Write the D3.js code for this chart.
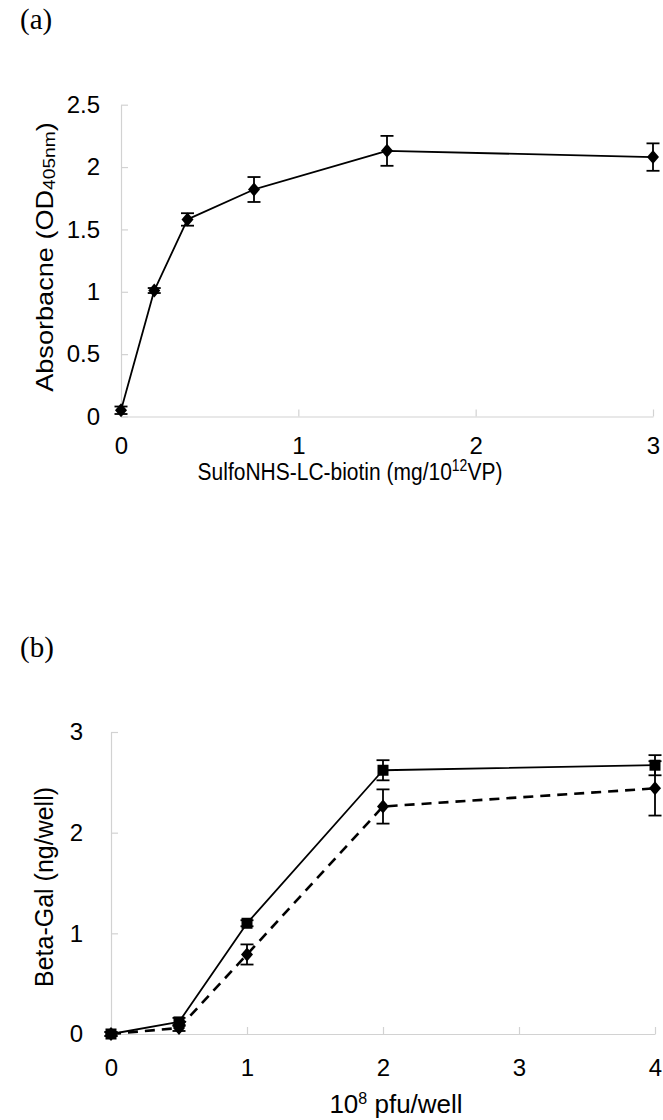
<!DOCTYPE html>
<html>
<head>
<meta charset="utf-8">
<script src="https://cdn.jsdelivr.net/npm/d3@7"></script>
<style>
  html, body { margin: 0; padding: 0; background: #fff; }
  svg { display: block; }
  text { font-family: "Liberation Sans", Arial, sans-serif; fill: #000; }
  text.panel { font-family: "Liberation Serif", "Times New Roman", serif; }
</style>
</head>
<body>
<svg id="chart" width="663" height="1120"></svg>
<script>
// ---------- data ----------
// Panel (a)
const aX = [0, 0.1875, 0.375, 0.75, 1.5, 3];
const aY = [0.05, 1.01, 1.58, 1.82, 2.13, 2.08];
const aErr = [0.03, 0.02, 0.05, 0.10, 0.12, 0.11];
const aXTicks = [0, 1, 2, 3];
const aXTickLabels = ["0", "1", "2", "3"];
const aYTicks = [0, 0.5, 1, 1.5, 2, 2.5];
const aYTickLabels = ["0", "0.5", "1", "1.5", "2", "2.5"];

// Panel (b)
const bX = [0, 0.5, 1, 2, 4];
const bSolid = [0, 0.12, 1.10, 2.62, 2.67];
const bSolidErr = [0.02, 0.04, 0.03, 0.10, 0.10];
const bDashed = [0, 0.06, 0.79, 2.26, 2.44];
const bDashedErr = [0.02, 0.03, 0.10, 0.17, 0.27];
const bXTicks = [0, 1, 2, 3, 4];
const bXTickLabels = ["0", "1", "2", "3", "4"];
const bYTicks = [0, 1, 2, 3];
const bYTickLabels = ["0", "1", "2", "3"];

// ---------- drawing ----------
const svg = d3.select("#chart");
const AXIS_COLOR = "#d2d2d2";
const TICK_FONT = 24;

function drawAxes(g, x, y, xTicks, xLabels, yTicks, yLabels, yLabelGap, xLabelDy) {
  const [xa] = x.range();
  const [ya] = y.range();
  const xAxis = g.append("g").attr("transform", `translate(0,${ya})`)
    .call(d3.axisBottom(x).tickValues(xTicks).tickSize(-7).tickFormat((d, i) => xLabels[i]).tickSizeOuter(0));
  xAxis.select(".domain").attr("stroke", AXIS_COLOR).attr("stroke-width", 1.2);
  xAxis.selectAll(".tick line").attr("stroke", AXIS_COLOR).attr("stroke-width", 1.2);
  xAxis.selectAll(".tick text").attr("font-size", TICK_FONT).attr("y", xLabelDy).attr("dy", 0)
    .attr("fill", "#000");
  const yAxis = g.append("g").attr("transform", `translate(${xa},0)`)
    .call(d3.axisLeft(y).tickValues(yTicks).tickSize(-7).tickFormat((d, i) => yLabels[i]).tickSizeOuter(0));
  yAxis.select(".domain").attr("stroke", AXIS_COLOR).attr("stroke-width", 1.2);
  yAxis.selectAll(".tick line").attr("stroke", AXIS_COLOR).attr("stroke-width", 1.2);
  yAxis.selectAll(".tick text").attr("font-size", TICK_FONT).attr("x", -yLabelGap)
    .attr("fill", "#000");
  g.selectAll(".tick text").style("font-family", "'Liberation Sans', Arial, sans-serif");
}

function drawErrors(g, x, y, xs, ys, es, cap) {
  const eg = g.append("g").attr("stroke", "#000").attr("stroke-width", 1.8).attr("fill", "none");
  xs.forEach((xv, i) => {
    const cx = x(xv), top = y(ys[i] + es[i]), bot = y(ys[i] - es[i]);
    eg.append("line").attr("x1", cx).attr("x2", cx).attr("y1", top).attr("y2", bot);
    eg.append("line").attr("x1", cx - cap).attr("x2", cx + cap).attr("y1", top).attr("y2", top);
    eg.append("line").attr("x1", cx - cap).attr("x2", cx + cap).attr("y1", bot).attr("y2", bot);
  });
}

function drawLine(g, x, y, xs, ys, dash, width) {
  const line = d3.line().x((d, i) => x(xs[i])).y(d => y(d));
  g.append("path").datum(ys).attr("d", line).attr("fill", "none")
    .attr("stroke", "#000").attr("stroke-width", width)
    .attr("stroke-dasharray", dash || null).attr("stroke-linejoin", "round");
}

function drawDiamonds(g, x, y, xs, ys, w, h) {
  g.append("g").selectAll("path").data(ys).join("path")
    .attr("d", (d, i) => {
      const cx = x(xs[i]), cy = y(d);
      return `M${cx},${cy - h / 2}L${cx + w / 2},${cy}L${cx},${cy + h / 2}L${cx - w / 2},${cy}Z`;
    }).attr("fill", "#000");
}

function drawSquares(g, x, y, xs, ys, s) {
  g.append("g").selectAll("rect").data(ys).join("rect")
    .attr("x", (d, i) => x(xs[i]) - s / 2).attr("y", d => y(d) - s / 2)
    .attr("width", s).attr("height", s).attr("fill", "#000");
}

// ----- Panel (a) -----
{
  const g = svg.append("g");
  const x = d3.scaleLinear().domain([0, 3]).range([121, 653]);
  const y = d3.scaleLinear().domain([0, 2.5]).range([416.5, 104.7]);
  drawAxes(g, x, y, aXTicks, aXTickLabels, aYTicks, aYTickLabels, 21, 37);
  drawLine(g, x, y, aX, aY, null, 1.8);
  drawErrors(g, x, y, aX, aY, aErr, 6.5);
  drawDiamonds(g, x, y, aX, aY, 12, 14);

  g.append("text").attr("class", "panel").attr("x", 20).attr("y", 29)
    .attr("font-size", 29).text("(a)");

  const xt = g.append("text").attr("transform", "translate(350,480) scale(1,1.15)")
    .attr("text-anchor", "middle").attr("font-size", 21);
  xt.append("tspan").text("SulfoNHS-LC-biotin (mg/10");
  xt.append("tspan").attr("font-size", 14).attr("dy", -8).text("12");
  xt.append("tspan").attr("dy", 8).text("VP)");

  const yt = g.append("text").attr("transform", "translate(53,257) scale(1,1.13) rotate(-90)")
    .attr("text-anchor", "middle").attr("font-size", 24);
  yt.append("tspan").text("Absorbacne (OD");
  yt.append("tspan").attr("font-size", 17).attr("dy", 2).text("405nm");
  yt.append("tspan").attr("dy", -2).text(")");
}

// ----- Panel (b) -----
{
  const g = svg.append("g");
  const x = d3.scaleLinear().domain([0, 4]).range([111, 655]);
  const y = d3.scaleLinear().domain([0, 3]).range([1034, 732]);
  drawAxes(g, x, y, bXTicks, bXTickLabels, bYTicks, bYTickLabels, 28, 42);
  drawLine(g, x, y, bX, bDashed, "10,7", 2.6);
  drawLine(g, x, y, bX, bSolid, null, 1.8);
  drawErrors(g, x, y, bX, bSolid, bSolidErr, 6.5);
  drawErrors(g, x, y, bX, bDashed, bDashedErr, 6.5);
  drawSquares(g, x, y, bX, bSolid, 11);
  drawDiamonds(g, x, y, bX, bDashed, 12, 14);

  g.append("text").attr("class", "panel").attr("x", 20).attr("y", 657)
    .attr("font-size", 29).text("(b)");

  const xt = g.append("text").attr("x", 396).attr("y", 1113).attr("text-anchor", "middle").attr("font-size", 26);
  xt.append("tspan").text("10");
  xt.append("tspan").attr("font-size", 16).attr("dy", -9).text("8");
  xt.append("tspan").attr("dy", 9).text(" pfu/well");

  g.append("text").attr("transform", "translate(53,887) rotate(-90)")
    .attr("text-anchor", "middle").attr("font-size", 25).text("Beta-Gal (ng/well)");
}
</script>
</body>
</html>
